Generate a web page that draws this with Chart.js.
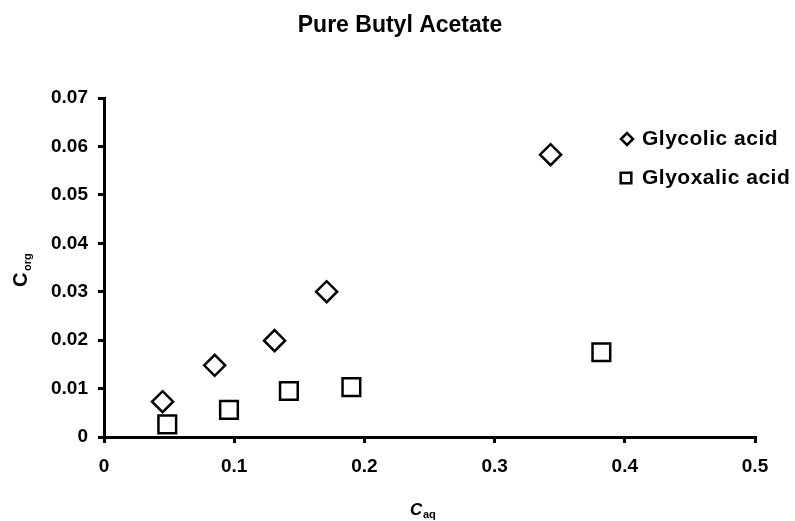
<!DOCTYPE html>
<html>
<head>
<meta charset="utf-8">
<script src="https://cdn.jsdelivr.net/npm/chart.js@4/dist/chart.umd.min.js"></script>
<style>
  body { margin: 0; background: #fff; }
  #wrap { width: 795px; height: 521px; }
</style>
</head>
<body>
<div id="wrap"><canvas id="chart" width="795" height="521"></canvas></div>
<script>
// Values
const chartTitle = 'Pure Butyl Acetate';
const seriesNames = ['Glycolic acid', 'Glyoxalic acid'];
const glycolicX = [0.045, 0.085, 0.131, 0.171, 0.343];
const glycolicY = [0.0073, 0.0148, 0.0199, 0.0300, 0.0583];
const glyoxalicX = [0.0486, 0.096, 0.142, 0.190, 0.382];
const glyoxalicY = [0.0026, 0.0056, 0.0095, 0.0103, 0.0175];
const xTicks = [0, 0.1, 0.2, 0.3, 0.4, 0.5];
const yTicks = [0, 0.01, 0.02, 0.03, 0.04, 0.05, 0.06, 0.07];

const FONT = '"Liberation Sans", Arial, sans-serif';

function toPoints(xs, ys) {
  return xs.map((x, i) => ({ x: x, y: ys[i] }));
}

function tickText(v) {
  if (v === 0) return '0';
  return String(Number(v.toFixed(2)));
}

// Title, axis titles (with subscripts) and the legend box
const decorations = {
  id: 'decorations',
  afterDraw(chart) {
    const ctx = chart.ctx;
    ctx.save();
    ctx.fillStyle = '#000';
    ctx.strokeStyle = '#000';

    // title
    ctx.font = 'bold 23px ' + FONT;
    ctx.textAlign = 'center';
    ctx.textBaseline = 'middle';
    ctx.fillText(chartTitle, 400, 26);

    // y axis title C_org
    ctx.save();
    ctx.translate(27, 287);
    ctx.rotate(-Math.PI / 2);
    ctx.textAlign = 'left';
    ctx.textBaseline = 'alphabetic';
    ctx.font = 'bold 20px ' + FONT;
    ctx.fillText('C', 0, 0);
    ctx.font = 'bold 11px ' + FONT;
    ctx.fillText('org', 16, 4);
    ctx.restore();

    // x axis title C_aq
    ctx.textAlign = 'left';
    ctx.textBaseline = 'alphabetic';
    ctx.font = 'italic bold 17px ' + FONT;
    ctx.fillText('C', 410, 515);
    ctx.font = 'bold 11px ' + FONT;
    ctx.fillText('aq', 423, 518);

    // legend
    const items = [
      { y: 139, x: 627, radius: 6 },
      { y: 178, x: 626, radius: 7.5 }
    ];
    chart.data.datasets.forEach((ds, i) => {
      const it = items[i];
      ctx.lineWidth = 2.5;
      ctx.fillStyle = '#fff';
      Chart.helpers.drawPoint(ctx, {
        pointStyle: ds.pointStyle,
        radius: it.radius,
        rotation: 0,
        borderWidth: 2.5
      }, it.x, it.y);
      ctx.fillStyle = '#000';
      ctx.font = 'bold 21px ' + FONT;
      ctx.letterSpacing = '0.5px';
      ctx.textBaseline = 'middle';
      ctx.fillText(ds.label, 642, it.y);
      ctx.letterSpacing = '0px';
    });
    ctx.restore();
  }
};

new Chart(document.getElementById('chart'), {
  type: 'scatter',
  data: {
    datasets: [
      {
        label: seriesNames[0],
        data: toPoints(glycolicX, glycolicY),
        pointStyle: 'rectRot',
        pointRadius: 10.5,
        pointBorderWidth: 2.5,
        borderColor: '#000',
        backgroundColor: '#fff',
        clip: false
      },
      {
        label: seriesNames[1],
        data: toPoints(glyoxalicX, glyoxalicY),
        pointStyle: 'rect',
        pointRadius: 12.5,
        pointBorderWidth: 2.5,
        borderColor: '#000',
        backgroundColor: '#fff',
        clip: false
      }
    ]
  },
  options: {
    responsive: false,
    animation: false,
    layout: {
      padding: { left: 0, right: 40, top: 98, bottom: 0 }
    },
    plugins: {
      legend: { display: false },
      title: { display: false },
      tooltip: { enabled: false }
    },
    scales: {
      x: {
        type: 'linear',
        min: 0,
        max: 0.5,
        afterBuildTicks: scale => { scale.ticks = xTicks.map(v => ({ value: v })); },
        afterFit: scale => { scale.height = 84; },
        ticks: {
          color: '#000',
          font: { family: FONT, size: 19, weight: 'bold' },
          padding: 12,
          maxRotation: 0,
          callback: v => tickText(v)
        },
        grid: {
          display: true,
          drawOnChartArea: false,
          drawTicks: true,
          tickLength: 6,
          lineWidth: 3,
          color: '#000'
        },
        border: { display: true, color: '#000', width: 3 }
      },
      y: {
        type: 'linear',
        min: 0,
        max: 0.07,
        afterBuildTicks: scale => { scale.ticks = yTicks.map(v => ({ value: v })); },
        afterFit: scale => { scale.width = 104; },
        ticks: {
          color: '#000',
          font: { family: FONT, size: 19, weight: 'bold' },
          padding: 10,
          callback: v => tickText(v)
        },
        grid: {
          display: true,
          drawOnChartArea: false,
          drawTicks: true,
          tickLength: 6,
          lineWidth: 3,
          color: '#000'
        },
        border: { display: true, color: '#000', width: 3 }
      }
    }
  },
  plugins: [decorations]
});
</script>
</body>
</html>
